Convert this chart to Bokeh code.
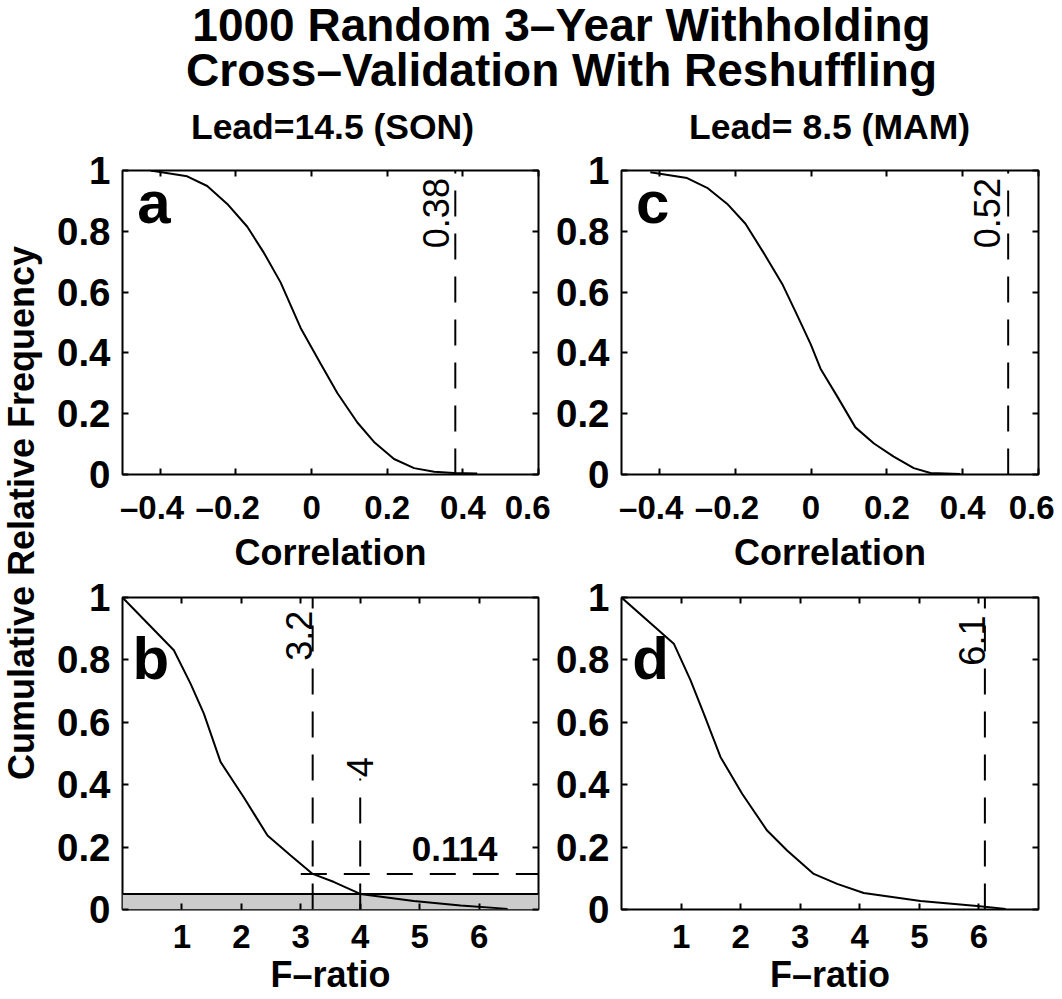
from math import pi
from bokeh.plotting import figure
from bokeh.layouts import column, row
from bokeh.models import Range1d, FixedTicker, LinearAxis, CustomJSTickFormatter, AllLabels
from bokeh.core.properties import value
from bokeh.embed import file_html
from bokeh.resources import INLINE

FONT = "Liberation Sans"

# ---------------- data ----------------
main_title = ["1000 Random 3\u2013Year Withholding", "Cross\u2013Validation With Reshuffling"]
subtitles = ["Lead=14.5 (SON)", "Lead= 8.5 (MAM)"]
ylabel = "Cumulative Relative Frequency"
xlabels = ["Correlation", "F\u2013ratio"]
panel_letters = ["a", "c", "b", "d"]

corr_ticks = [-0.4, -0.2, 0, 0.2, 0.4, 0.6]
f_ticks = [1, 2, 3, 4, 5, 6]
y_ticks = [0, 0.2, 0.4, 0.6, 0.8, 1]

# panel a: correlation, lead 14.5 (SON)
corr_son_r = [-0.426, -0.329, -0.276, -0.223, -0.170, -0.126, -0.082, -0.029, 0.024,
              0.068, 0.121, 0.165, 0.218, 0.271, 0.324, 0.376, 0.438]
corr_son_cdf = [1.0, 0.981, 0.949, 0.890, 0.815, 0.729, 0.632, 0.482, 0.364,
                0.268, 0.171, 0.107, 0.051, 0.021, 0.009, 0.005, 0.003]
# panel c: correlation, lead 8.5 (MAM)
corr_mam_r = [-0.424, -0.327, -0.274, -0.221, -0.173, -0.125, -0.076, -0.037, -0.001,
              0.025, 0.069, 0.117, 0.166, 0.218, 0.271, 0.315, 0.394]
corr_mam_cdf = [0.994, 0.975, 0.943, 0.890, 0.825, 0.729, 0.627, 0.525, 0.429,
                0.348, 0.257, 0.155, 0.102, 0.059, 0.021, 0.005, 0.002]
# panel b: F-ratio, SON
f_son_x = [0, 0.864, 1.145, 1.369, 1.65, 2.04, 2.44, 2.83, 3.2, 3.56, 4.0, 4.9, 5.69, 6.48]
f_son_cdf = [1.0, 0.831, 0.724, 0.628, 0.473, 0.360, 0.237, 0.173, 0.114, 0.088, 0.05, 0.027, 0.013, 0.002]
# panel d: F-ratio, MAM
f_mam_x = [0, 0.878, 1.158, 1.381, 1.661, 2.025, 2.444, 2.78, 3.227, 3.62, 4.066, 5.02, 5.97, 6.45]
f_mam_cdf = [1.0, 0.852, 0.735, 0.628, 0.489, 0.371, 0.253, 0.189, 0.114, 0.082, 0.053, 0.027, 0.011, 0.002]

obs_corr = [0.38, 0.52]        # observed correlations (a, c)
obs_corr_lbl = ["0.38", "0.52"]
obs_f = [3.2, 6.1]             # observed F-ratios (b, d)
obs_f_lbl = ["3.2", "6.1"]
f_crit = 4.0                   # 5% critical F
f_crit_lbl = "4"
p_son = 0.114                  # exceedance probability of observed SON F
p_son_lbl = "0.114"
sig_level = 0.05               # shaded significance band
hline_start = 3.0

# ---------------- helpers ----------------
# negative labels: digits centred on the tick, minus sign hanging to the left
fmt = CustomJSTickFormatter(code="""
const v = Math.round(tick*10)/10;
if (v < 0) return '\u2013' + (-v).toString() + '\u2002';
return v.toString();
""")
blank = CustomJSTickFormatter(code="return '';")


def style_axis(ax, size, standoff):
    ax.major_tick_in = 6
    ax.major_tick_out = 0
    ax.minor_tick_in = 0
    ax.minor_tick_out = 0
    ax.major_tick_line_width = 2
    ax.major_tick_line_color = "black"
    ax.axis_line_color = None
    ax.major_label_text_font = FONT
    ax.major_label_text_font_style = "bold"
    ax.major_label_text_font_size = size
    ax.major_label_text_color = "black"
    ax.major_label_standoff = standoff
    ax.major_label_policy = AllLabels()


def make_panel(w, h, xr, xticks, mbl, mbr, mbt, mbb, xlabel, tick_standoff, lbl_standoff):
    p = figure(width=w, height=h, x_range=Range1d(*xr), y_range=Range1d(0, 1),
               output_backend="svg", toolbar_location=None, title_location=None,
               x_axis_location=None, y_axis_location=None,
               min_border_left=mbl, min_border_right=mbr,
               min_border_top=mbt, min_border_bottom=mbb)
    p.grid.visible = False
    p.outline_line_color = "black"
    p.outline_line_width = 2

    bottom = LinearAxis(ticker=FixedTicker(ticks=xticks), formatter=fmt, axis_label=xlabel)
    style_axis(bottom, "33px", tick_standoff)
    bottom.axis_label_text_font = FONT
    bottom.axis_label_text_font_style = "bold"
    bottom.axis_label_text_font_size = "36px"
    bottom.axis_label_text_color = "black"
    bottom.axis_label_standoff = lbl_standoff

    left = LinearAxis(ticker=FixedTicker(ticks=y_ticks), formatter=fmt)
    style_axis(left, "38.5px", 12)

    top = LinearAxis(ticker=FixedTicker(ticks=xticks), formatter=blank)
    style_axis(top, "0px", 0)
    right = LinearAxis(ticker=FixedTicker(ticks=y_ticks), formatter=blank)
    style_axis(right, "0px", 0)

    p.add_layout(bottom, "below")
    p.add_layout(left, "left")
    p.add_layout(top, "above")
    p.add_layout(right, "right")
    return p


def vlabel(p, x, y, txt, baseline="bottom", dx=0):
    p.text(x=[x], y=[y], text=[txt], angle=pi / 2, text_align="right",
           text_baseline=baseline, x_offset=dx, text_font=value(FONT),
           text_font_style="normal", text_font_size="36px", text_color="black")


def letter(p, x, y, txt):
    p.text(x=[x], y=[y], text=[txt], text_align="left", text_baseline="alphabetic",
           text_font=value(FONT), text_font_style="bold", text_font_size="60px",
           text_color="black")


DASH = "26 17"

# ---------------- header (titles) ----------------
HW, HH = 1054, 148
header = figure(width=HW, height=HH, x_range=Range1d(0, HW), y_range=Range1d(HH, 0),
                output_backend="svg", toolbar_location=None, title_location=None,
                x_axis_location=None, y_axis_location=None, min_border=0,
                min_border_left=0, min_border_right=0, min_border_top=0, min_border_bottom=0)
header.grid.visible = False
header.outline_line_color = None
header.text(x=[561, 561], y=[24, 69.5], text=main_title, text_align="center",
            text_baseline="alphabetic", text_font=value(FONT), text_font_style="bold",
            text_font_size="46px", text_color="black")
header.text(x=[332, 829], y=[126.6, 126.6], text=subtitles, text_align="center",
            text_baseline="alphabetic", text_font=value(FONT), text_font_style="bold",
            text_font_size="35.5px", text_color="black")

# ---------------- shared y label strip ----------------
LW, LH = 52, 850
ylab = figure(width=LW, height=LH, x_range=Range1d(0, LW), y_range=Range1d(LH, 0),
              output_backend="svg", toolbar_location=None, title_location=None,
              x_axis_location=None, y_axis_location=None, min_border=0,
              min_border_left=0, min_border_right=0, min_border_top=0, min_border_bottom=0)
ylab.grid.visible = False
ylab.outline_line_color = None
ylab.text(x=[21], y=[364.5], text=[ylabel], angle=pi / 2, text_align="center",
          text_baseline="alphabetic", text_font=value(FONT), text_font_style="bold",
          text_font_size="36px", text_color="black")

# ---------------- panels ----------------
corr_range = (-0.5, 0.6)
f_range = (0, 7)

pa = make_panel(498, 427, corr_range, corr_ticks, 70, 12, 22, 94, xlabels[0], 14, 3)
pc = make_panel(504, 427, corr_range, corr_ticks, 71, 16, 22, 94, xlabels[0], 14, 3)
pb = make_panel(498, 423, f_range, f_ticks, 70, 12, 22, 89, xlabels[1], 15, 3)
pd = make_panel(504, 423, f_range, f_ticks, 71, 16, 22, 89, xlabels[1], 15, 3)

# panel a
pa.line(corr_son_r, corr_son_cdf, line_color="black", line_width=2)
pa.line([obs_corr[0], obs_corr[0]], [0, 1], line_color="black", line_width=2, line_dash=DASH)
vlabel(pa, obs_corr[0], 0.975, obs_corr_lbl[0], dx=-6)
letter(pa, -0.461, 0.895, panel_letters[0])

# panel c
pc.line(corr_mam_r, corr_mam_cdf, line_color="black", line_width=2)
pc.line([obs_corr[1], obs_corr[1]], [0, 1], line_color="black", line_width=2, line_dash=DASH)
vlabel(pc, obs_corr[1], 0.975, obs_corr_lbl[1], dx=-8)
letter(pc, -0.462, 0.895, panel_letters[1])

# panel b
pb.quad(left=[f_range[0]], right=[f_range[1]], bottom=[0], top=[sig_level],
        fill_color="#cccccc", line_color=None)
pb.line([f_range[0], f_range[1]], [sig_level, sig_level], line_color="black", line_width=2)
pb.line(f_son_x, f_son_cdf, line_color="black", line_width=2)
pb.line([obs_f[0], obs_f[0]], [0, 1], line_color="black", line_width=2, line_dash=DASH)
pb.line([f_crit, f_crit], [0, 0.42], line_color="black", line_width=2, line_dash=DASH)
pb.line([hline_start, f_range[1]], [p_son, p_son], line_color="black", line_width=2, line_dash=DASH)
vlabel(pb, obs_f[0], 0.958, obs_f_lbl[0], dx=-1)
vlabel(pb, f_crit, 0.488, f_crit_lbl, baseline="middle")
pb.text(x=[6.31], y=[0.195], text=[p_son_lbl], text_align="right", text_baseline="alphabetic",
        text_font=value(FONT), text_font_style="bold", text_font_size="35px", text_color="black")
letter(pb, 0.17, 0.803, panel_letters[2])

# panel d
pd.line(f_mam_x, f_mam_cdf, line_color="black", line_width=2)
pd.line([obs_f[1], obs_f[1]], [0, 1], line_color="black", line_width=2, line_dash=DASH)
vlabel(pd, obs_f[1], 0.942, obs_f_lbl[1])
letter(pd, 0.18, 0.803, panel_letters[3])

layout = column(header, row(ylab, column(row(pa, pc), row(pb, pd))))

open("out.html", "w").write(file_html(layout, INLINE))
